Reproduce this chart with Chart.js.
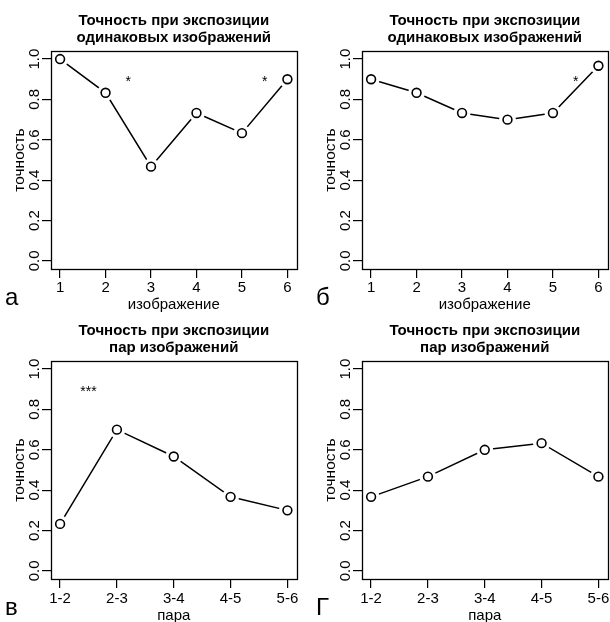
<!DOCTYPE html>
<html><head><meta charset="utf-8">
<script src="https://cdn.jsdelivr.net/npm/chart.js@4.4.1/dist/chart.umd.min.js"></script>
<style>
html,body{margin:0;padding:0;background:#fff;overflow:hidden;width:610px;height:622px}
#wrap{position:relative;width:610px;height:622px;overflow:hidden;background:#fff}
canvas{position:absolute}
</style></head>
<body><div id="wrap"></div>
<script>
// ---- data ----
const imageCategories = [1, 2, 3, 4, 5, 6];
const pairCategories = ['1-2', '2-3', '3-4', '4-5', '5-6'];
const yTickValues = [0, 0.2, 0.4, 0.6, 0.8, 1.0];
const yTickLabels = ['0.0', '0.2', '0.4', '0.6', '0.8', '1.0'];
const accuracyA = [1.0, 0.833, 0.467, 0.733, 0.633, 0.9];
const accuracyB = [0.9, 0.833, 0.733, 0.7, 0.733, 0.967];
const accuracyC = [0.233, 0.7, 0.567, 0.367, 0.3];
const accuracyD = [0.367, 0.467, 0.6, 0.633, 0.467];
const starsA = [[2.5, 0.9, '*'], [5.5, 0.9, '*']];
const starsB = [[5.5, 0.9, '*']];
const starsC = [[1.5, 0.9, '***']];
const starsD = [];
const titleSame = ['Точность при экспозиции', 'одинаковых изображений'];
const titlePairs = ['Точность при экспозиции', 'пар изображений'];
const yAxisTitle = 'точность';
const xTitleImages = 'изображение';
const xTitlePairs = 'пара';
const panelLetters = ['а', 'б', 'в', 'Г'];

const FONT = "'Liberation Sans', Arial, sans-serif";
const CW = 305, CH = 312;
const AREA = {left: 51, top: 51, right: 298, bottom: 269};

const decor = {
  id: 'decor',
  afterDraw(chart, args, o) {
    const ctx = chart.ctx;
    const {left, top, right, bottom} = chart.chartArea;
    const xs = chart.scales.x, ys = chart.scales.y;
    ctx.save();
    ctx.fillStyle = '#000';
    ctx.strokeStyle = '#000';
    ctx.lineWidth = 1.3;
    ctx.strokeRect(Math.round(left) + 0.5, Math.round(top) + 0.5, Math.round(right - left), Math.round(bottom - top));
    // title
    ctx.font = 'bold 15px ' + FONT;
    ctx.textAlign = 'center';
    ctx.textBaseline = 'alphabetic';
    const cx = (left + right) / 2;
    o.title.forEach((t, i) => ctx.fillText(t, cx, 25 + i * 17));
    // y tick labels
    ctx.font = '15px ' + FONT;
    ys.ticks.forEach((t) => {
      const py = ys.getPixelForValue(t.value);
      ctx.save();
      ctx.translate(left - 12, py);
      ctx.rotate(-Math.PI / 2);
      ctx.textAlign = 'center';
      ctx.fillText(yTickLabels[yTickValues.indexOf(t.value)], 0, 0);
      ctx.restore();
    });
    // y title
    ctx.save();
    ctx.translate(left - 27, (top + bottom) / 2);
    ctx.rotate(-Math.PI / 2);
    ctx.textAlign = 'center';
    ctx.font = '15.5px ' + FONT;
    ctx.fillText(yAxisTitle, 0, 0);
    ctx.restore();
    // x title
    ctx.font = '15px ' + FONT;
    ctx.fillText(o.xTitle, cx, bottom + 40 + o.dy);
    // stars
    ctx.font = '14px ' + FONT;
    o.stars.forEach(s => {
      ctx.fillText(s[2], xs.getPixelForValue(s[0]), ys.getPixelForValue(s[1]) + 6.5);
    });
    // panel letter
    ctx.font = '24px ' + FONT;
    ctx.textAlign = 'left';
    ctx.fillText(o.letter, 5, bottom + 36);
    ctx.restore();
  }
};

function makePanel(px, py, cats, values, tickLabelFn, title, xTitle, stars, letter, dy) {
  const cv = document.createElement('canvas');
  cv.width = CW; cv.height = CH;
  cv.style.left = px + 'px'; cv.style.top = py + 'px';
  cv.style.width = CW + 'px'; cv.style.height = CH + 'px';
  document.getElementById('wrap').appendChild(cv);
  const pts = cats.map((c, i) => ({x: i + 1, y: values[i]}));
  const n = cats.length;
  const ext = (n - 1) * 0.04;
  new Chart(cv, {
    type: 'line',
    data: {
      datasets: [
        {data: pts, showLine: false, pointRadius: 4.4, pointBorderWidth: 1.6,
         pointBackgroundColor: '#fff', pointBorderColor: '#000', order: 0},
        {data: pts, showLine: false, pointRadius: 8.5, pointBorderWidth: 0,
         pointBackgroundColor: '#fff', pointBorderColor: '#fff', order: 1},
        {data: pts, showLine: true, pointRadius: 0, borderWidth: 1.5,
         borderColor: '#000', tension: 0, fill: false, order: 2}
      ]
    },
    options: {
      responsive: false, animation: false, events: [],
      devicePixelRatio: 1,
      layout: {padding: {left: 0, top: AREA.top, right: CW - AREA.right, bottom: 0}},
      plugins: {legend: {display: false}, tooltip: {enabled: false}, title: {display: false},
        decor: {title, xTitle, stars, letter, dy}},
      scales: {
        x: {
          type: 'linear', min: 1 - ext, max: n + ext,
          afterBuildTicks: s => { s.ticks = cats.map((c, i) => ({value: i + 1})); },
          afterFit: s => { s.height = CH - AREA.bottom; },
          border: {display: false},
          grid: {drawOnChartArea: false, drawTicks: true, tickLength: 9, color: '#000', lineWidth: 1.2},
          ticks: {autoSkip: false, maxRotation: 0, minRotation: 0, padding: 1 + dy, color: '#000',
            font: {family: FONT, size: 15},
            callback: v => tickLabelFn(v)}
        },
        y: {
          type: 'linear', min: -0.04, max: 1.04,
          afterBuildTicks: s => { s.ticks = yTickValues.map(v => ({value: v})); },
          afterFit: s => { s.width = AREA.left; },
          border: {display: false},
          grid: {drawOnChartArea: false, drawTicks: true, tickLength: 9, color: '#000', lineWidth: 1.2},
          ticks: {display: false}
        }
      }
    },
    plugins: [decor]
  });
}

makePanel(0, 0, imageCategories, accuracyA, v => String(imageCategories[v - 1]), titleSame, xTitleImages, starsA, panelLetters[0], 0);
makePanel(311, 0, imageCategories, accuracyB, v => String(imageCategories[v - 1]), titleSame, xTitleImages, starsB, panelLetters[1], 0);
makePanel(0, 310, pairCategories, accuracyC, v => pairCategories[v - 1], titlePairs, xTitlePairs, starsC, panelLetters[2], 1);
makePanel(311, 310, pairCategories, accuracyD, v => pairCategories[v - 1], titlePairs, xTitlePairs, starsD, panelLetters[3], 1);
</script>
</body></html>
